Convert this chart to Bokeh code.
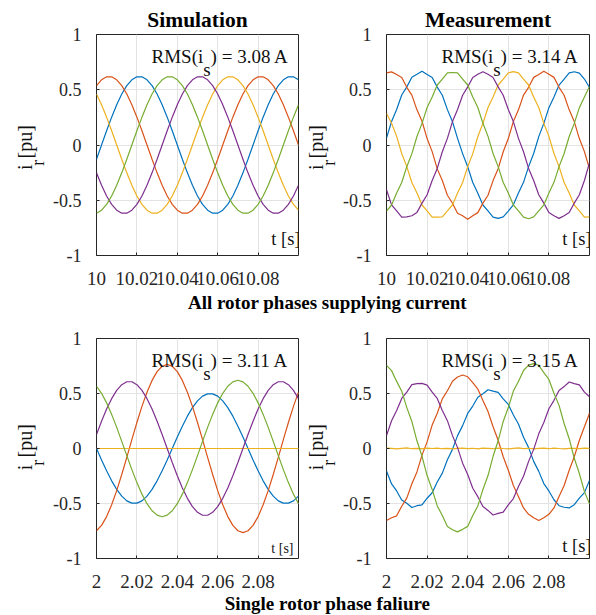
from bokeh.plotting import figure
from bokeh.layouts import column, row
from bokeh.models import Range1d, FixedTicker, CustomJSTickFormatter, Label, Title
from bokeh.embed import file_html
from bokeh.resources import INLINE

# ---------------- data ----------------
t_top = [10.0, 10.0025, 10.005, 10.0075, 10.01, 10.0125, 10.015, 10.0175, 10.02, 10.0225,
         10.025, 10.0275, 10.03, 10.0325, 10.035, 10.0375, 10.04, 10.0425, 10.045, 10.0475,
         10.05, 10.0525, 10.055, 10.0575, 10.06, 10.0625, 10.065, 10.0675, 10.07, 10.0725,
         10.075, 10.0775, 10.08, 10.0825, 10.085, 10.0875, 10.09, 10.0925, 10.095, 10.0975, 10.1]
t_bot = [2.0, 2.0025, 2.005, 2.0075, 2.01, 2.0125, 2.015, 2.0175, 2.02, 2.0225,
         2.025, 2.0275, 2.03, 2.0325, 2.035, 2.0375, 2.04, 2.0425, 2.045, 2.0475,
         2.05, 2.0525, 2.055, 2.0575, 2.06, 2.0625, 2.065, 2.0675, 2.07, 2.0725,
         2.075, 2.0775, 2.08, 2.0825, 2.085, 2.0875, 2.09, 2.0925, 2.095, 2.0975, 2.1]

# Simulation, all rotor phases supplying current
sim_all_blue = [-0.129, 0.000, 0.129, 0.252, 0.364, 0.461, 0.537, 0.590, 0.617, 0.617, 0.590, 0.537, 0.461, 0.364,
                0.252, 0.129, 0.000, -0.129, -0.252, -0.364, -0.461, -0.537, -0.590, -0.617, -0.617, -0.590, -0.537,
                -0.461, -0.364, -0.252, -0.129, 0.000, 0.129, 0.252, 0.364, 0.461, 0.537, 0.590, 0.617, 0.617, 0.590]
sim_all_red = [0.537, 0.590, 0.617, 0.617, 0.590, 0.537, 0.461, 0.364, 0.252, 0.129, 0.000, -0.129, -0.252, -0.364,
               -0.461, -0.537, -0.590, -0.617, -0.617, -0.590, -0.537, -0.461, -0.364, -0.252, -0.129, 0.000, 0.129,
               0.252, 0.364, 0.461, 0.537, 0.590, 0.617, 0.617, 0.590, 0.537, 0.461, 0.364, 0.252, 0.129, 0.000]
sim_all_yellow = [0.461, 0.364, 0.252, 0.129, 0.000, -0.129, -0.252, -0.364, -0.461, -0.537, -0.590, -0.617, -0.617,
                  -0.590, -0.537, -0.461, -0.364, -0.252, -0.129, 0.000, 0.129, 0.252, 0.364, 0.461, 0.537, 0.590,
                  0.617, 0.617, 0.590, 0.537, 0.461, 0.364, 0.252, 0.129, 0.000, -0.129, -0.252, -0.364, -0.461,
                  -0.537, -0.590]
sim_all_purple = [-0.252, -0.364, -0.461, -0.537, -0.590, -0.617, -0.617, -0.590, -0.537, -0.461, -0.364, -0.252,
                  -0.129, 0.000, 0.129, 0.252, 0.364, 0.461, 0.537, 0.590, 0.617, 0.617, 0.590, 0.537, 0.461, 0.364,
                  0.252, 0.129, 0.000, -0.129, -0.252, -0.364, -0.461, -0.537, -0.590, -0.617, -0.617, -0.590,
                  -0.537, -0.461, -0.364]
sim_all_green = [-0.617, -0.590, -0.537, -0.461, -0.364, -0.252, -0.129, 0.000, 0.129, 0.252, 0.364, 0.461, 0.537,
                 0.590, 0.617, 0.617, 0.590, 0.537, 0.461, 0.364, 0.252, 0.129, 0.000, -0.129, -0.252, -0.364,
                 -0.461, -0.537, -0.590, -0.617, -0.617, -0.590, -0.537, -0.461, -0.364, -0.252, -0.129, 0.000,
                 0.129, 0.252, 0.364]

# Measurement, all rotor phases supplying current
meas_all_blue = [0.062, 0.213, 0.321, 0.452, 0.526, 0.613, 0.640, 0.668, 0.638, 0.611, 0.524, 0.450, 0.320, 0.211,
                 0.060, -0.078, -0.197, -0.339, -0.436, -0.543, -0.597, -0.653, -0.664, -0.650, -0.598, -0.541,
                 -0.435, -0.338, -0.196, -0.077, 0.076, 0.196, 0.338, 0.435, 0.542, 0.597, 0.652, 0.663, 0.651,
                 0.597, 0.520]
meas_all_red = [0.652, 0.662, 0.638, 0.611, 0.522, 0.451, 0.318, 0.215, 0.058, -0.060, -0.216, -0.321, -0.455,
                -0.527, -0.617, -0.641, -0.672, -0.640, -0.612, -0.526, -0.455, -0.322, -0.214, -0.061, 0.058, 0.213,
                0.318, 0.452, 0.522, 0.612, 0.638, 0.668, 0.641, 0.612, 0.522, 0.450, 0.318, 0.212, 0.058, -0.060,
                -0.215]
meas_all_yellow = [0.285, 0.196, 0.078, -0.077, -0.196, -0.339, -0.434, -0.543, -0.597, -0.653, -0.652, -0.650,
                   -0.597, -0.543, -0.434, -0.339, -0.196, -0.078, 0.077, 0.196, 0.339, 0.434, 0.543, 0.597, 0.653,
                   0.664, 0.652, 0.597, 0.543, 0.434, 0.339, 0.196, 0.078, -0.077, -0.196, -0.339, -0.434, -0.543,
                   -0.597, -0.653, -0.650]
meas_all_purple = [-0.405, -0.542, -0.597, -0.652, -0.651, -0.640, -0.610, -0.526, -0.450, -0.321, -0.212, -0.061,
                   0.060, 0.212, 0.321, 0.450, 0.526, 0.611, 0.641, 0.663, 0.640, 0.611, 0.526, 0.450, 0.321, 0.212,
                   0.060, -0.061, -0.212, -0.321, -0.450, -0.526, -0.611, -0.640, -0.664, -0.640, -0.611, -0.526,
                   -0.450, -0.321, -0.160]
meas_all_green = [-0.598, -0.543, -0.434, -0.339, -0.196, -0.078, 0.077, 0.196, 0.339, 0.434, 0.543, 0.597, 0.653,
                  0.656, 0.652, 0.596, 0.543, 0.434, 0.339, 0.196, 0.078, -0.077, -0.196, -0.339, -0.434, -0.543,
                  -0.597, -0.653, -0.667, -0.651, -0.597, -0.542, -0.434, -0.338, -0.196, -0.077, 0.077, 0.196,
                  0.338, 0.434, 0.530]

# Simulation, single rotor phase failure
sim_fail_blue = [0.000, -0.104, -0.203, -0.294, -0.372, -0.433, -0.476, -0.497, -0.497, -0.476, -0.433, -0.372,
                 -0.294, -0.203, -0.104, 0.000, 0.104, 0.203, 0.294, 0.372, 0.433, 0.476, 0.497, 0.497, 0.476, 0.433,
                 0.372, 0.294, 0.203, 0.104, 0.000, -0.104, -0.203, -0.294, -0.372, -0.433, -0.476, -0.497, -0.497,
                 -0.476, -0.433]
sim_fail_red = [-0.748, -0.699, -0.619, -0.512, -0.383, -0.236, -0.080, 0.080, 0.236, 0.383, 0.512, 0.619, 0.699,
                0.748, 0.765, 0.748, 0.699, 0.619, 0.512, 0.383, 0.236, 0.080, -0.080, -0.236, -0.383, -0.512,
                -0.619, -0.699, -0.748, -0.765, -0.748, -0.699, -0.619, -0.512, -0.383, -0.236, -0.080, 0.080,
                0.236, 0.383, 0.512]
sim_fail_yellow = [0.0, 0.0, 0.0, 0.0, 0.0, 0.0, 0.0, 0.0, 0.0, 0.0, 0.0, 0.0, 0.0, 0.0, 0.0, 0.0, 0.0, 0.0, 0.0,
                   0.0, 0.0, 0.0, 0.0, 0.0, 0.0, 0.0, 0.0, 0.0, 0.0, 0.0, 0.0, 0.0, 0.0, 0.0, 0.0, 0.0, 0.0, 0.0,
                   0.0, 0.0, 0.0]
sim_fail_purple = [0.127, 0.248, 0.359, 0.453, 0.528, 0.580, 0.607, 0.607, 0.580, 0.528, 0.453, 0.359, 0.248, 0.127,
                   0.000, -0.127, -0.248, -0.359, -0.453, -0.528, -0.580, -0.607, -0.607, -0.580, -0.528, -0.453,
                   -0.359, -0.248, -0.127, 0.000, 0.127, 0.248, 0.359, 0.453, 0.528, 0.580, 0.607, 0.607, 0.580,
                   0.528, 0.453]
sim_fail_green = [0.566, 0.502, 0.415, 0.310, 0.192, 0.065, -0.065, -0.192, -0.310, -0.415, -0.502, -0.566, -0.606,
                  -0.620, -0.606, -0.566, -0.502, -0.415, -0.310, -0.192, -0.065, 0.065, 0.192, 0.310, 0.415, 0.502,
                  0.566, 0.606, 0.620, 0.606, 0.566, 0.502, 0.415, 0.310, 0.192, 0.065, -0.065, -0.192, -0.310,
                  -0.415, -0.502]

# Measurement, single rotor phase failure
meas_fail_blue = [-0.205, -0.322, -0.386, -0.468, -0.497, -0.536, -0.520, -0.512, -0.452, -0.402, -0.305, -0.224,
                  -0.103, -0.008, 0.117, 0.208, 0.319, 0.386, 0.466, 0.497, 0.534, 0.521, 0.511, 0.452, 0.401, 0.305,
                  0.223, 0.103, 0.008, -0.117, -0.208, -0.319, -0.386, -0.466, -0.520, -0.534, -0.540, -0.511,
                  -0.452, -0.401, -0.290]
meas_fail_red = [-0.655, -0.630, -0.612, -0.525, -0.451, -0.321, -0.213, -0.060, 0.060, 0.213, 0.321, 0.451, 0.525,
                 0.612, 0.650, 0.668, 0.652, 0.598, 0.540, 0.436, 0.336, 0.198, 0.075, -0.075, -0.198, -0.336,
                 -0.436, -0.540, -0.598, -0.630, -0.655, -0.630, -0.598, -0.540, -0.436, -0.336, -0.198, -0.075,
                 0.075, 0.198, 0.320]
meas_fail_yellow = [0.004, 0.001, -0.003, 0.002, 0.005, -0.002, 0.001, -0.004, 0.003, 0.000, 0.004, -0.002, 0.002,
                    -0.003, 0.001, 0.004, -0.001, 0.002, -0.004, 0.003, 0.001, -0.002, 0.004, 0.000, -0.003, 0.002,
                    0.005, -0.001, 0.002, -0.004, 0.001, 0.003, -0.002, 0.004, 0.000, -0.003, 0.002, 0.001, -0.002,
                    0.003, 0.001]
meas_fail_purple = [0.118, 0.252, 0.345, 0.455, 0.512, 0.580, 0.590, 0.592, 0.576, 0.512, 0.455, 0.345, 0.253,
                    0.117, 0.008, -0.133, -0.236, -0.361, -0.438, -0.528, -0.563, -0.605, -0.590, -0.578, -0.512,
                    -0.455, -0.345, -0.252, -0.117, -0.008, 0.133, 0.236, 0.361, 0.438, 0.528, 0.563, 0.605, 0.590,
                    0.578, 0.512, 0.470]
meas_fail_green = [0.755, 0.708, 0.610, 0.521, 0.372, 0.245, 0.070, -0.071, -0.246, -0.372, -0.522, -0.609, -0.708,
                   -0.738, -0.758, -0.735, -0.708, -0.609, -0.522, -0.372, -0.246, -0.071, 0.070, 0.246, 0.372,
                   0.522, 0.609, 0.709, 0.758, 0.772, 0.757, 0.690, 0.628, 0.503, 0.392, 0.227, 0.089, -0.089,
                   -0.227, -0.392, -0.503]

xticks_top = [10, 10.02, 10.04, 10.06, 10.08]
xticks_bot = [2, 2.02, 2.04, 2.06, 2.08]
yticks = [-1, -0.5, 0, 0.5, 1]
rms_values = ["3.08", "3.14", "3.11", "3.15"]
col_titles = ["Simulation", "Measurement"]
captions = ["All rotor phases supplying current", "Single rotor phase faliure"]

# ---------------- styling ----------------
FONT = "Liberation Serif"
AXC = "#262626"
TXT = "#111111"
C_BLUE, C_RED, C_YELLOW, C_PURPLE, C_GREEN = "#0072BD", "#D95319", "#EDB120", "#7E2F8E", "#77AC30"
HALF_PI = 1.5707963267948966
MID = 0.3375      # em distance from the alphabetic baseline to the middle of the text box
ROT_DX = -3.0     # correction for rotated text placement (pixels)
ROT_DY = -5.0


def panel(t, blue, red, yellow, purple, green, xlim, xticks, rms, tsmall, title,
          width, bl, br, height, bt, bb, t_y):
    fw = width - bl - br
    fh = height - bt - bb
    p = figure(width=width, height=height, x_range=Range1d(*xlim), y_range=Range1d(-1, 1),
               toolbar_location=None, output_backend="svg", title=None,
               min_border_left=bl, min_border_right=br, min_border_top=bt, min_border_bottom=bb)
    if title:
        p.title = Title(text=title, align="center", text_font=FONT, text_font_size="21.5px",
                        text_font_style="bold", text_color="black", standoff=5)
    p.background_fill_color = "white"
    p.border_fill_color = "white"
    p.outline_line_color = AXC
    p.outline_line_width = 1
    p.outline_line_alpha = 1.0
    p.xaxis.ticker = FixedTicker(ticks=xticks)
    p.yaxis.ticker = FixedTicker(ticks=yticks)
    p.xaxis.formatter = CustomJSTickFormatter(code="return String(Math.round(tick*100)/100);")
    p.yaxis.formatter = CustomJSTickFormatter(code="return String(tick);")
    for ax in p.axis:
        ax.axis_line_color = None
        ax.major_tick_in = 3
        ax.major_tick_out = 0
        ax.major_tick_line_color = AXC
        ax.minor_tick_line_color = None
        ax.major_label_text_font = FONT
        ax.major_label_text_color = AXC
    p.xaxis.major_label_text_font_size = "19px"
    p.yaxis.major_label_text_font_size = "18px"
    p.xaxis.major_label_standoff = 16
    p.yaxis.major_label_standoff = 15
    p.grid.grid_line_color = "#e3e3e3"
    p.grid.grid_line_width = 1

    for ys, c in [(blue, C_BLUE), (red, C_RED), (yellow, C_YELLOW), (purple, C_PURPLE), (green, C_GREEN)]:
        p.line(t, ys, line_color=c, line_width=1.2)

    def lab(text, x, y_base, size, align="left"):
        p.add_layout(Label(x=x, y=y_base + MID * size, x_units="screen", y_units="screen", text=text,
                           text_font=FONT, text_font_size=f"{size}px", text_align=align,
                           text_baseline="middle", text_color=TXT))

    # RMS annotation with subscript s
    yb = fh - 28.5
    lab("RMS(i", 55, yb, 19)
    lab("s", 106.7, yb - 12.5, 19)
    lab(") = " + rms + " A", 114.1, yb, 19)
    # t [s]
    if tsmall:
        lab("t [s]", fw - 8, t_y, 14, align="right")
    else:
        lab("t [s]", fw - 1, t_y, 18.5, align="right")
    return p


def strip(w, h, items):
    """A plain text strip in pixel coordinates (used for texts outside the axes)."""
    s = figure(width=w, height=h, x_range=Range1d(0, w), y_range=Range1d(0, h),
               toolbar_location=None, output_backend="svg", title=None,
               x_axis_location=None, y_axis_location=None, min_border=0)
    s.outline_line_color = None
    s.grid.visible = False
    s.border_fill_color = "white"
    s.background_fill_color = "white"
    for (text, x, y, size, style, angle) in items:
        s.add_layout(Label(x=x, y=y, text=text, text_font=FONT, text_font_size=f"{size}px",
                           text_font_style=style, text_align="center", text_baseline="middle",
                           angle=angle, text_color="black" if style == "bold" else TXT))
    return s


def ylabel_strip(w, h, xb, yc):
    # rotated "i_r [pu]": centre of each piece along the text, text-box centre across it
    return strip(w, h, [
        ("i", xb - MID * 20 + ROT_DX, yc + ROT_DY, 20, "normal", HALF_PI),
        ("r", xb + 12.5 - MID * 18 + ROT_DX, yc + 5.8 + ROT_DY, 18, "normal", HALF_PI),
        ("[pu]", xb - MID * 20 + ROT_DX, yc + 33.4 + ROT_DY, 20, "normal", HALF_PI),
    ])


# top row (page y 0 .. 290)
p1 = panel(t_top, sim_all_blue, sim_all_red, sim_all_yellow, sim_all_purple, sim_all_green,
           (10, 10.1), xticks_top, rms_values[0], False, col_titles[0], 250, 43, 2, 290, 34, 35, 10)
p2 = panel(t_top, meas_all_blue, meas_all_red, meas_all_yellow, meas_all_purple, meas_all_green,
           (10, 10.1), xticks_top, rms_values[1], False, col_titles[1], 256, 43, 7, 290, 34, 35, 10)
yl1 = ylabel_strip(50, 290, 34.5, 120.8)
yl2 = ylabel_strip(40, 290, 25, 120.8)

cap1 = strip(596, 26, [(captions[0], 327, 7.5 + MID * 19, 19, "bold", 0.0)])

# bottom row (page y 316 .. 592)
p3 = panel(t_bot, sim_fail_blue, sim_fail_red, sim_fail_yellow, sim_fail_purple, sim_fail_green,
           (2, 2.1), xticks_bot, rms_values[2], True, None, 250, 43, 2, 276, 22, 34, 5.5)
p4 = panel(t_bot, meas_fail_blue, meas_fail_red, meas_fail_yellow, meas_fail_purple, meas_fail_green,
           (2, 2.1), xticks_bot, rms_values[3], False, None, 256, 43, 7, 276, 22, 34, 6)
yl3 = ylabel_strip(50, 276, 34.5, 119.3)
yl4 = ylabel_strip(40, 276, 25, 119.3)

cap2 = strip(596, 23, [(captions[1], 327, 6 + MID * 19, 19, "bold", 0.0)])

layout = column(row(yl1, p1, yl2, p2), cap1, row(yl3, p3, yl4, p4), cap2, spacing=0)

open("out.html", "w").write(file_html(layout, INLINE))
